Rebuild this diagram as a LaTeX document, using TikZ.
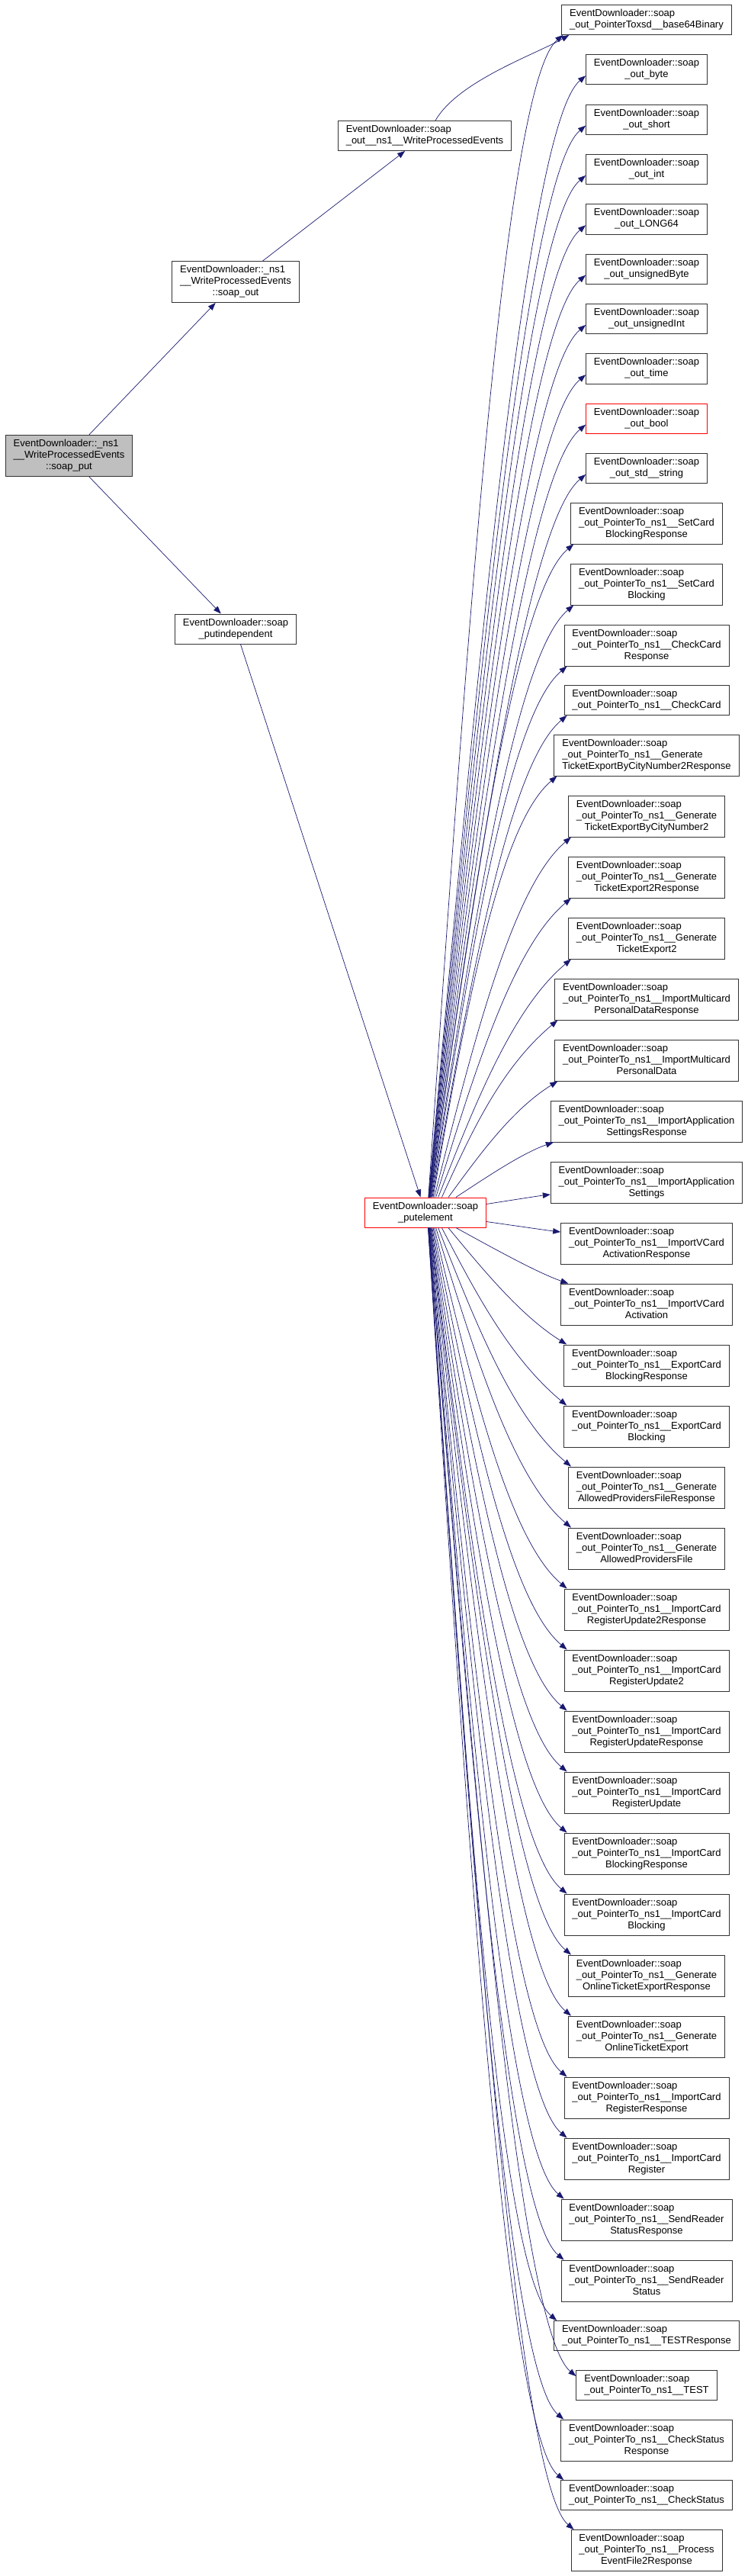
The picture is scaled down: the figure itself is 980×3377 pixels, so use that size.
\documentclass[tikz,border=0pt]{standalone}
\usepackage{fontspec}
\setmainfont{Liberation Sans}
\usetikzlibrary{arrows.meta,calc}
\definecolor{edgeblue}{HTML}{191970}
\definecolor{rootgray}{HTML}{BFBFBF}
\newcommand{\twol}[2]{\begin{tabular}{@{}l@{}}#1\\\multicolumn{1}{@{}c@{}}{#2}\end{tabular}}
\newcommand{\threel}[3]{\begin{tabular}{@{}l@{}}#1\\#2\\\multicolumn{1}{@{}c@{}}{#3}\end{tabular}}
\newcommand{\edl}{EventDownloader::soap}
\newcommand{\ptns}{\_out\_PointerTo\_ns1\_\_}
\begin{document}
\begin{tikzpicture}[x=1pt, y=-1pt,
  fn/.style={draw=black!80, fill=white, line width=0.8pt, inner xsep=10.5pt, inner ysep=4.6pt, font=\fontsize{13}{15}\selectfont},
  call/.style={draw=edgeblue, line width=0.7pt, -{Triangle[length=10pt,width=7.5pt]}}]
\useasboundingbox (0,0) rectangle (980,3377);
\node[fn, fill=rootgray] (put) at (90.5,597.5) {\threel{EventDownloader::\_ns1}{\_\_WriteProcessedEvents}{::soap\_put}};
\node[fn] (nsout) at (309,369.5) {\threel{EventDownloader::\_ns1}{\_\_WriteProcessedEvents}{::soap\_out}};
\node[fn] (wpe) at (557,178) {\twol{\edl}{\_out\_\_ns1\_\_WriteProcessedEvents}};
\node[fn] (putind) at (309,824.5) {\twol{\edl}{\_putindependent}};
\node[fn, draw=red] (pel) at (558,1589.5) {\twol{\edl}{\_putelement}};
\draw[call] (put) -- (nsout);
\draw[call] (nsout) -- (wpe);
\draw[call] (put) -- (putind);
\draw[call] (putind) -- (pel);
% callees of soap_putelement, one column
\foreach \nm/\yy/\bc/\anc/\sx/\sy/\lbl in {
  base64/26/black!80/south west/2/0/{\twol{\edl}{\_out\_PointerToxsd\_\_base64Binary}},
  byte/91.3/black!80/west/0/-8/{\twol{\edl}{\_out\_byte}},
  short/156.7/black!80/west/0/-8/{\twol{\edl}{\_out\_short}},
  int/222/black!80/west/0/-8/{\twol{\edl}{\_out\_int}},
  long/287.3/black!80/west/0/-8/{\twol{\edl}{\_out\_LONG64}},
  ubyte/352.7/black!80/west/0/-8/{\twol{\edl}{\_out\_unsignedByte}},
  uint/418/black!80/west/0/-8/{\twol{\edl}{\_out\_unsignedInt}},
  time/483.3/black!80/west/0/-8/{\twol{\edl}{\_out\_time}},
  bool/548.7/red/west/0/-8/{\twol{\edl}{\_out\_bool}},
  string/614/black!80/west/0/-8/{\twol{\edl}{\_out\_std\_\_string}},
  scbr/686/black!80/south west/4/0/{\threel{\edl}{\ptns SetCard}{BlockingResponse}},
  scb/766/black!80/south west/4/0/{\threel{\edl}{\ptns SetCard}{Blocking}},
  ccr/846/black!80/south west/4/0/{\threel{\edl}{\ptns CheckCard}{Response}},
  cc/918/black!80/south west/4/0/{\twol{\edl}{\ptns CheckCard}},
  tebr/990/black!80/south west/4/0/{\threel{\edl}{\ptns Generate}{TicketExportByCityNumber2Response}},
  teb/1070/black!80/south west/4/0/{\threel{\edl}{\ptns Generate}{TicketExportByCityNumber2}},
  te2r/1150/black!80/south west/4/0/{\threel{\edl}{\ptns Generate}{TicketExport2Response}},
  te2/1230/black!80/south west/4/0/{\threel{\edl}{\ptns Generate}{TicketExport2}},
  impr/1310/black!80/south west/4/0/{\threel{\edl}{\ptns ImportMulticard}{PersonalDataResponse}},
  imp/1390/black!80/south west/4/0/{\threel{\edl}{\ptns ImportMulticard}{PersonalData}},
  iasr/1470/black!80/south west/4/0/{\threel{\edl}{\ptns ImportApplication}{SettingsResponse}},
  ias/1550/black!80/west/0/-16/{\threel{\edl}{\ptns ImportApplication}{Settings}},
  ivcar/1630/black!80/west/0/15/{\threel{\edl}{\ptns ImportVCard}{ActivationResponse}},
  ivca/1710/black!80/north west/10/0/{\threel{\edl}{\ptns ImportVCard}{Activation}},
  ecbr/1790/black!80/north west/4/0/{\threel{\edl}{\ptns ExportCard}{BlockingResponse}},
  ecb/1870/black!80/north west/4/0/{\threel{\edl}{\ptns ExportCard}{Blocking}},
  apfr/1950/black!80/north west/4/0/{\threel{\edl}{\ptns Generate}{AllowedProvidersFileResponse}},
  apf/2030/black!80/north west/4/0/{\threel{\edl}{\ptns Generate}{AllowedProvidersFile}},
  icru2r/2110/black!80/north west/4/0/{\threel{\edl}{\ptns ImportCard}{RegisterUpdate2Response}},
  icru2/2190/black!80/north west/4/0/{\threel{\edl}{\ptns ImportCard}{RegisterUpdate2}},
  icrur/2270/black!80/north west/4/0/{\threel{\edl}{\ptns ImportCard}{RegisterUpdateResponse}},
  icru/2350/black!80/north west/4/0/{\threel{\edl}{\ptns ImportCard}{RegisterUpdate}},
  icbr/2430/black!80/north west/4/0/{\threel{\edl}{\ptns ImportCard}{BlockingResponse}},
  icb/2510/black!80/north west/4/0/{\threel{\edl}{\ptns ImportCard}{Blocking}},
  oter/2590/black!80/north west/4/0/{\threel{\edl}{\ptns Generate}{OnlineTicketExportResponse}},
  ote/2670/black!80/north west/4/0/{\threel{\edl}{\ptns Generate}{OnlineTicketExport}},
  icrr/2750/black!80/north west/4/0/{\threel{\edl}{\ptns ImportCard}{RegisterResponse}},
  icr/2830/black!80/north west/4/0/{\threel{\edl}{\ptns ImportCard}{Register}},
  srsr/2910/black!80/north west/4/0/{\threel{\edl}{\ptns SendReader}{StatusResponse}},
  srs/2990/black!80/north west/4/0/{\threel{\edl}{\ptns SendReader}{Status}},
  testr/3062/black!80/north west/4/0/{\twol{\edl}{\ptns TESTResponse}},
  test/3127/black!80/west/0/12/{\twol{\edl}{\ptns TEST}},
  csr/3199/black!80/north west/4/0/{\threel{\edl}{\ptns CheckStatus}{Response}},
  cs/3271/black!80/north west/4/0/{\twol{\edl}{\ptns CheckStatus}},
  pefr/3343.5/black!80/north west/4/0/{\threel{\edl}{\ptns Process}{EventFile2Response}}}{
  \node[fn, draw=\bc] (\nm) at (848,\yy) {\lbl};
  \pgfmathsetmacro\dy{1589.5-\yy}
  \pgfmathsetmacro\ad{abs(\dy)}
  \pgfmathsetmacro\inang{40*min(1,\ad/250)}
  \pgfmathsetmacro\ia{\dy>0 ? 180+\inang : 180-\inang}
  \pgfmathsetmacro\id{min(100,0.35*\ad)}
  \ifdim\ad pt<100pt
    \def\sta{east}\def\ssx{0}\pgfmathsetmacro\ssy{\dy>0 ? 11 : -12}
  \else
    \def\ssy{0}\pgfmathsetmacro\ssx{min(40,6000/\ad)}
    \ifdim\dy pt>0pt \def\sta{north}\else \def\sta{south}\fi
  \fi
  \coordinate (s) at ([xshift=\ssx pt, yshift=\ssy pt]pel.\sta);
  \coordinate (e) at ([xshift=\sx pt, yshift=\sy pt]\nm.\anc);
  \coordinate (c) at ([shift={(\ia:\id pt)}]e);
  \draw[call] (s) .. controls ($(s)!0.5!(c)$) and (c) .. (e);
}
\draw[call] ([xshift=14pt]wpe.north) .. controls +(60:60pt) and +(210:50pt) .. ([xshift=10pt]base64.south west);
\end{tikzpicture}
\end{document}
